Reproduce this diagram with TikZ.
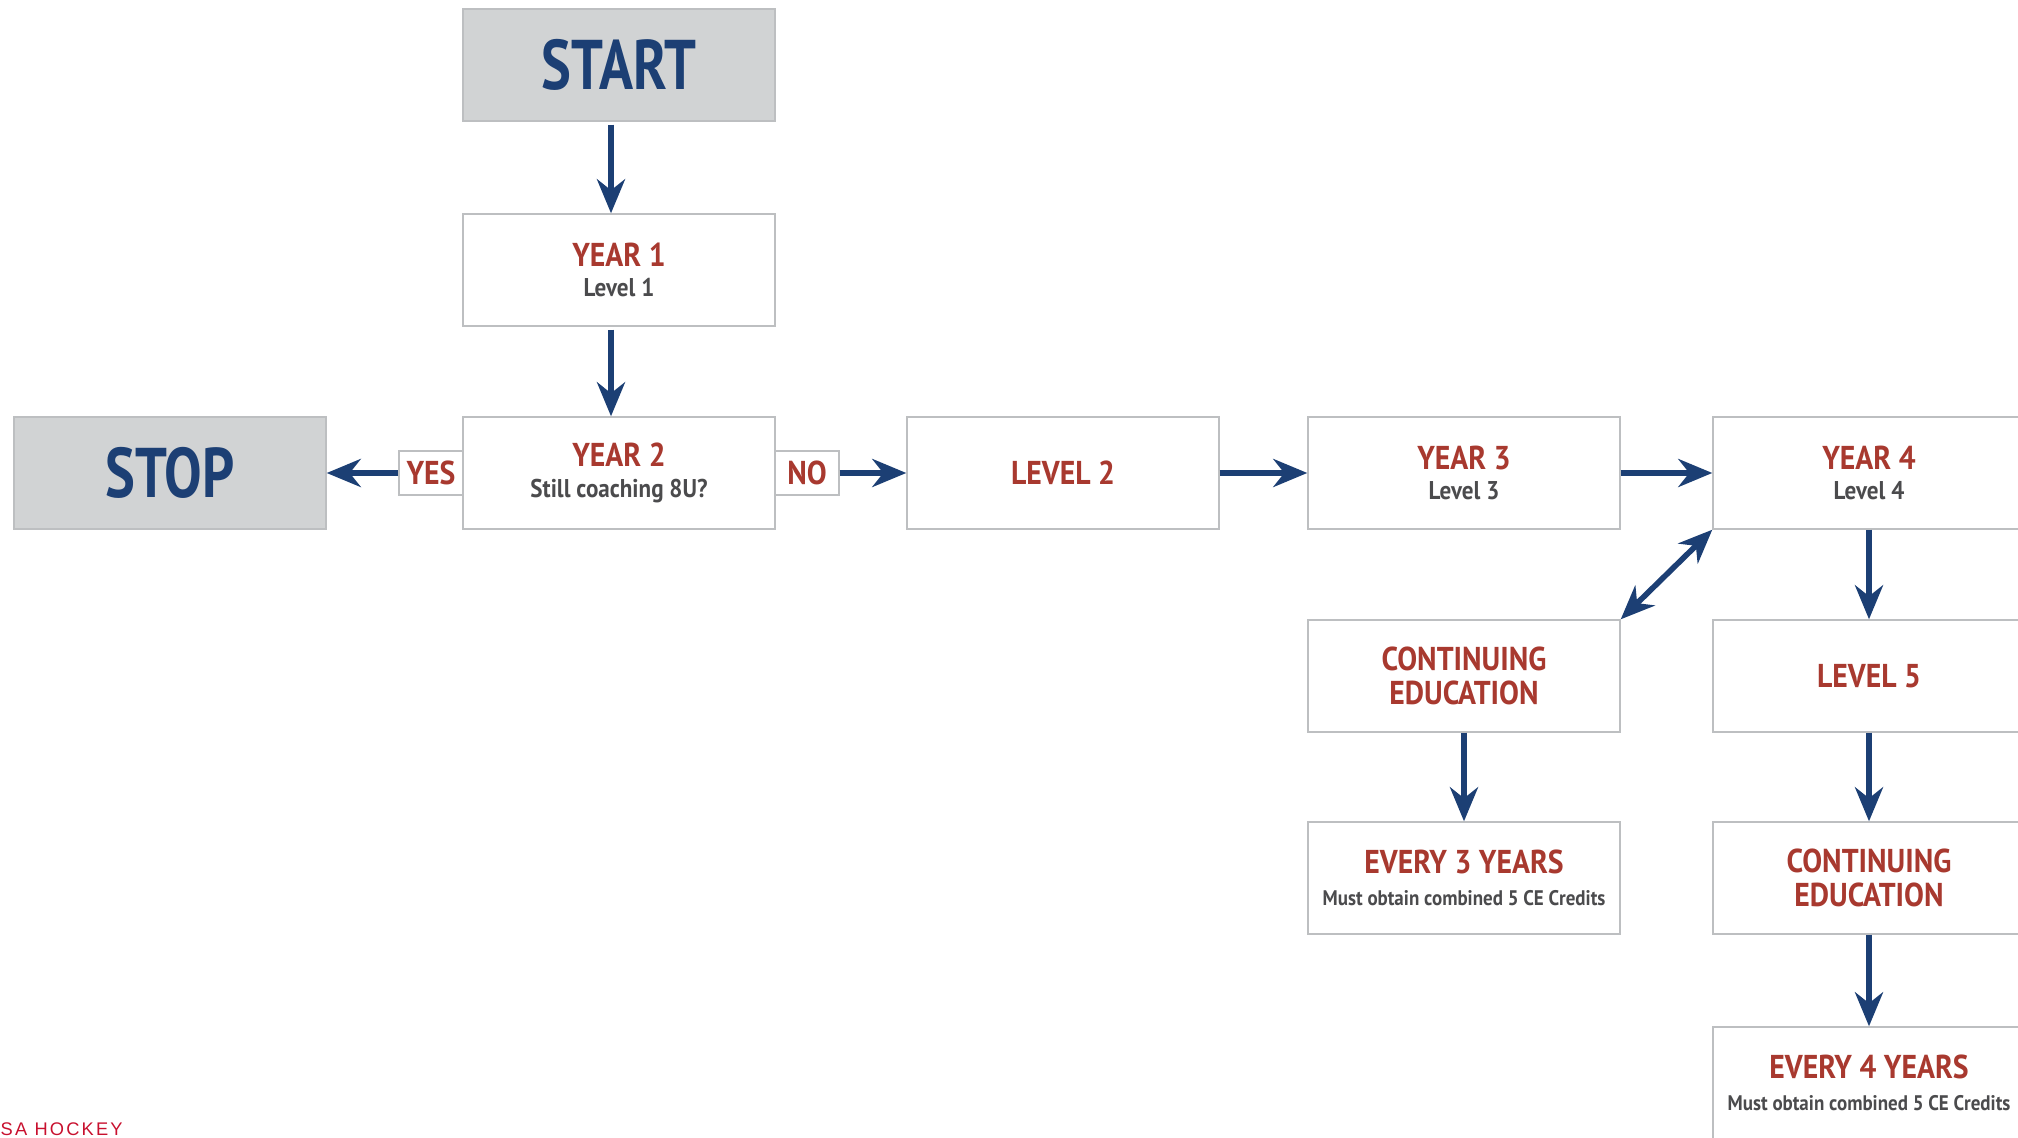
\documentclass[tikz,border=0pt]{standalone}
\usepackage{fontspec}
\setmainfont{PT Sans}[FakeStretch=0.9]
\newfontfamily\endfont{PT Sans}[FakeStretch=0.8]
\newfontfamily\logofont{Liberation Sans}[LetterSpace=12]
\usepackage{tikz}
\usetikzlibrary{arrows.meta}
\definecolor{navy}{HTML}{1C3F74}
\definecolor{brick}{HTML}{A8392F}
\definecolor{slate}{HTML}{4B4B4D}
\definecolor{boxgray}{HTML}{D1D3D4}
\definecolor{edgegray}{HTML}{BDBFC1}
\definecolor{logored}{HTML}{C8102E}
\newcommand{\boxtitle}[1]{{\fontsize{9.4}{10}\selectfont\bfseries\color{brick}#1}}
\newcommand{\boxnote}[1]{{\fontsize{7.3}{8}\selectfont\bfseries\color{slate}#1}}
\newcommand{\boxsmall}[1]{{\fontsize{6}{7}\selectfont\bfseries\color{slate}#1}}
\tikzset{stage/.style={draw=edgegray, line width=0.4pt, fill=white,
    minimum width=3.12cm, minimum height=1.12cm, inner sep=0pt, align=center,
    font=\fontsize{9}{9.6}\selectfont},
  endbox/.style={stage, fill=boxgray, text=navy, font=\endfont\fontsize{20}{24}\selectfont\bfseries},
  answer/.style={draw=edgegray, line width=0.4pt, fill=white, inner sep=0pt,
    minimum width=0.64cm, minimum height=0.44cm, text=brick,
    font=\fontsize{9.4}{10}\selectfont\bfseries},
  flow/.style={draw=navy, line width=1.6pt, -{Stealth[length=3.4mm,width=2.8mm,inset=1.1mm]}},
  twoway/.style={flow, {Stealth[length=3.4mm,width=2.8mm,inset=1.1mm]}-{Stealth[length=3.4mm,width=2.8mm,inset=1.1mm]}}
}

\begin{document}
\begin{tikzpicture}
                \useasboundingbox (0,0) rectangle (20.18,11.37);
                \clip (0,0) rectangle (20.18,11.37);

                % first column
                \node[endbox] (start) at (6.19,10.72) {START};
                \node[stage] (year1) at (6.19,8.67) {\boxtitle{YEAR 1}\\[-1pt]\boxnote{Level 1}};
                \node[stage] (year2) at (6.19,6.64) {\boxtitle{YEAR 2}\\[-1pt]\boxnote{Still coaching 8U?}};
                \node[endbox] (stop) at (1.70,6.64) {STOP};
                \node[answer] (yes) at (4.31,6.64) {YES};
                \node[answer] (no) at (8.07,6.64) {NO};

                % main row
                \node[stage] (level2) at (10.63,6.64) {\boxtitle{LEVEL 2}};
                \node[stage] (year3) at (14.64,6.64) {\boxtitle{YEAR 3}\\[-1pt]\boxnote{Level 3}};
                \node[stage] (year4) at (18.69,6.64) {\boxtitle{YEAR 4}\\[-1pt]\boxnote{Level 4}};

                % lower boxes
                \node[stage] (contedA) at (14.64,4.61) {\boxtitle{CONTINUING}\\\boxtitle{EDUCATION}};
                \node[stage] (every3) at (14.64,2.59) {\boxtitle{EVERY 3 YEARS}\\[-0.5pt]\boxsmall{Must obtain combined 5 CE Credits}};
                \node[stage] (level5) at (18.69,4.61) {\boxtitle{LEVEL 5}};
                \node[stage] (contedB) at (18.69,2.59) {\boxtitle{CONTINUING}\\\boxtitle{EDUCATION}};
                \node[stage] (every4) at (18.69,0.54) {\boxtitle{EVERY 4 YEARS}\\[-0.5pt]\boxsmall{Must obtain combined 5 CE Credits}};

                \draw[flow] ([xshift=-0.08cm,yshift=-0.3mm]start.south) -- ([xshift=-0.08cm]year1.north);
                \draw[flow] ([xshift=-0.08cm,yshift=-0.3mm]year1.south) -- ([xshift=-0.08cm]year2.north);
                \draw[flow] (yes.west) -- (stop.east);
                \draw[flow] (no.east) -- (level2.west);
                \draw[flow] (level2) -- (year3);
                \draw[flow] (year3) -- (year4);
                \draw[twoway] (year4.south west) -- (contedA.north east);
                \draw[flow] (year4) -- (level5);
                \draw[flow] (contedA) -- (every3);
                \draw[flow] (level5) -- (contedB);
                \draw[flow] (contedB) -- (every4);

                \node[anchor=base west, inner sep=0pt, text=logored, font=\logofont\fontsize{5.2}{6}\selectfont] (logo) at (0,0.02) {SA HOCKEY};
\end{tikzpicture}
\end{document}
